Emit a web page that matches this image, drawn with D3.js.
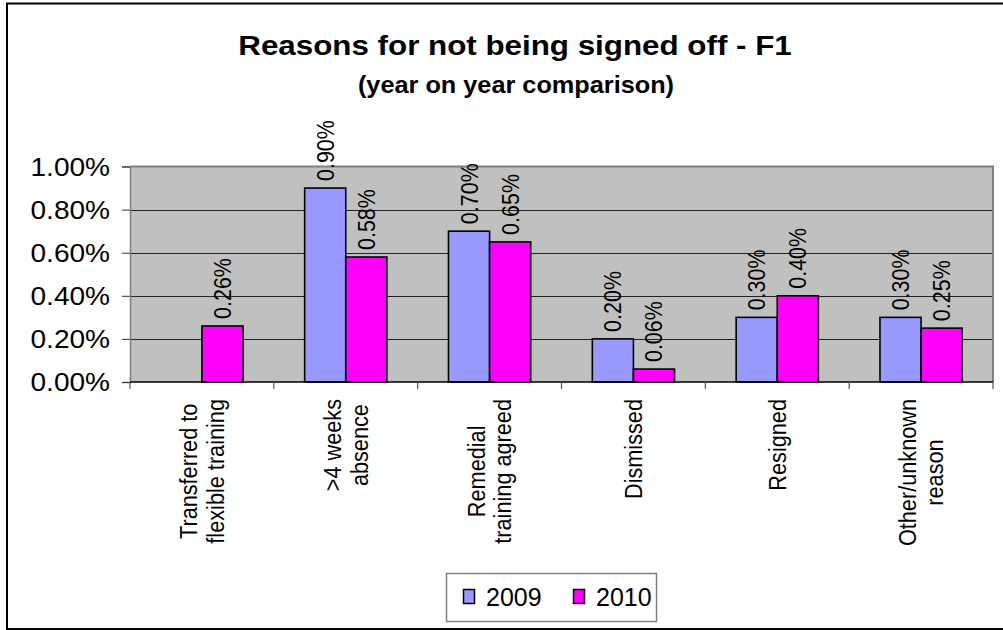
<!DOCTYPE html>
<html>
<head>
<meta charset="utf-8">
<script src="https://cdn.jsdelivr.net/npm/d3@7"></script>
<style>
  body { margin: 0; background: #fff; }
  svg text { font-family: "Liberation Sans", Arial, sans-serif; fill: #000; }
</style>
</head>
<body>
<div id="chart"></div>
<script>
// chart data
var categories = [
    ["Transferred to", "flexible training"],
    [">4 weeks", "absence"],
    ["Remedial", "training agreed"],
    ["Dismissed"],
    ["Resigned"],
    ["Other/unknown", "reason"]
];
var seriesNames = ["2009", "2010"];
var values2009 = [null, 0.90, 0.70, 0.20, 0.30, 0.30];
var values2010 = [0.26, 0.58, 0.65, 0.06, 0.40, 0.25];
var yTicks = [0, 0.2, 0.4, 0.6, 0.8, 1.0];
var colors = ["#9999ff", "#ff00ff"];

function init(){
    var w = 1003;
    var h = 630;
    var sx = 1.1; // text in the picture is a little wider than tall

    var plot = {left: 130, right: 993, top: 166.5, bottom: 382};

    var svg = d3.select('#chart')
                .append('svg')
                .attr('width', w)
                .attr('height', h);

    // outer frame
    svg.append('rect')
        .attr('x', 7).attr('y', 3.5)
        .attr('width', 1010).attr('height', 625.5)
        .attr('fill', '#fff')
        .attr('stroke', '#000')
        .attr('stroke-width', 2);

    // scales
    var xScale = d3.scaleBand()
                    .domain(d3.range(categories.length))
                    .range([plot.left, plot.right])
                    .padding(0);

    // gap width 150% => 0.75 bar on each side
    var xInner = d3.scaleBand()
                    .domain(seriesNames)
                    .range([0, xScale.bandwidth()])
                    .paddingInner(0)
                    .paddingOuter(0.75);

    var yScale = d3.scaleLinear()
                    .domain([0, 1.0])
                    .range([plot.bottom, plot.top]);

    // plot background
    svg.append('rect')
        .attr('x', plot.left).attr('y', plot.top)
        .attr('width', plot.right - plot.left)
        .attr('height', plot.bottom - plot.top)
        .attr('fill', '#c0c0c0');

    // gridlines
    svg.selectAll('line.grid')
        .data(yTicks.filter(function(d){ return d > 0 && d < 1; }))
        .enter()
        .append('line')
        .attr('class', 'grid')
        .attr('x1', plot.left).attr('x2', plot.right)
        .attr('y1', function(d){ return Math.round(yScale(d)) + 0.5; })
        .attr('y2', function(d){ return Math.round(yScale(d)) + 0.5; })
        .attr('stroke', '#222')
        .attr('stroke-width', 1);

    // plot border (top and right)
    svg.append('path')
        .attr('d', 'M' + plot.left + ',' + plot.top + 'H' + plot.right + 'V' + plot.bottom)
        .attr('fill', 'none')
        .attr('stroke', '#808080')
        .attr('stroke-width', 2);

    // bars
    var series = [values2009, values2010];
    var rows = [];
    series.forEach(function(vals, s){
        vals.forEach(function(v, i){
            if (v !== null) rows.push({i: i, s: s, v: v});
        });
    });

    svg.selectAll('rect.bar')
        .data(rows)
        .enter()
        .append('rect')
        .attr('class', 'bar')
        .attr('x', function(d){ return xScale(d.i) + xInner(seriesNames[d.s]); })
        .attr('y', function(d){ return yScale(d.v); })
        .attr('width', xInner.bandwidth())
        .attr('height', function(d){ return yScale(0) - yScale(d.v); })
        .attr('fill', function(d){ return colors[d.s]; })
        .attr('stroke', '#000')
        .attr('stroke-width', 1.6);

    // data labels, rotated
    svg.selectAll('text.val')
        .data(rows)
        .enter()
        .append('text')
        .attr('class', 'val')
        .attr('transform', function(d){
            var cx = xScale(d.i) + xInner(seriesNames[d.s]) + xInner.bandwidth() / 2;
            return 'translate(' + cx + ',' + (yScale(d.v) - 7) + ') scale(' + sx + ',1) rotate(-90)';
        })
        .attr('y', 7.7)
        .attr('font-size', '21.5px')
        .text(function(d){ return d.v.toFixed(2) + '%'; });

    // y axis
    var yAxis = d3.axisLeft(yScale)
                    .tickValues(yTicks)
                    .tickSize(8)
                    .tickFormat(function(d){ return d.toFixed(2) + '%'; });

    var gy = svg.append('g')
        .attr('transform', 'translate(' + plot.left + ',0)')
        .call(yAxis);
    gy.select('.domain').attr('stroke', '#808080').attr('stroke-width', 1.5);
    gy.selectAll('.tick line').attr('stroke', '#333');
    gy.selectAll('.tick text')
        .attr('font-size', '25.5px')
        .attr('font-family', '"Liberation Sans", Arial, sans-serif')
        .attr('x', -20 / sx)
        .attr('dy', '0.35em')
        .attr('transform', 'scale(' + sx + ',1)');

    // x axis line and ticks at category boundaries
    svg.append('line')
        .attr('x1', plot.left).attr('x2', plot.right)
        .attr('y1', plot.bottom).attr('y2', plot.bottom)
        .attr('stroke', '#000')
        .attr('stroke-width', 1.5);

    svg.selectAll('line.xtick')
        .data(d3.range(categories.length + 1))
        .enter()
        .append('line')
        .attr('class', 'xtick')
        .attr('x1', function(d){ return plot.left + d * xScale.step(); })
        .attr('x2', function(d){ return plot.left + d * xScale.step(); })
        .attr('y1', plot.bottom).attr('y2', plot.bottom + 7)
        .attr('stroke', '#555')
        .attr('stroke-width', 1.2);

    // category labels, rotated, lines centred on the longest one
    var lineGap = 24;
    var labelTop = 399;
    categories.forEach(function(lines, i){
        var cx = xScale(i) + xScale.bandwidth() / 2;
        var g = svg.append('g')
            .attr('transform', 'translate(' + cx + ',' + labelTop + ') scale(' + sx + ',1) rotate(-90)');
        var texts = g.selectAll('text')
            .data(lines)
            .enter()
            .append('text')
            .attr('font-size', '21.7px')
            .attr('text-anchor', 'middle')
            .attr('y', function(d, k){ return 7.8 + (k - (lines.length - 1) / 2) * lineGap; })
            .text(function(d){ return d; });
        var maxLen = d3.max(texts.nodes(), function(n){ return n.getComputedTextLength(); });
        texts.attr('x', -maxLen / 2);
    });

    // title
    svg.append('text')
        .attr('transform', 'translate(515,55) scale(' + sx + ',1)')
        .attr('text-anchor', 'middle')
        .attr('font-size', '28.5px')
        .attr('font-weight', 'bold')
        .text('Reasons for not being signed off - F1');

    svg.append('text')
        .attr('transform', 'translate(516,93) scale(' + sx + ',1)')
        .attr('text-anchor', 'middle')
        .attr('font-size', '23px')
        .attr('font-weight', 'bold')
        .text('(year on year comparison)');

    // legend
    var legend = svg.append('g');
    legend.append('rect')
        .attr('x', 446.5).attr('y', 573.5)
        .attr('width', 210).attr('height', 48)
        .attr('fill', '#fff')
        .attr('stroke', '#808080')
        .attr('stroke-width', 1.5);

    var legendX = [463, 573];
    var items = legend.selectAll('g.item')
        .data(seriesNames)
        .enter()
        .append('g')
        .attr('class', 'item')
        .attr('transform', function(d, i){ return 'translate(' + legendX[i] + ',0)'; });

    items.append('rect')
        .attr('x', 0.5).attr('y', 589.5)
        .attr('width', 11).attr('height', 14)
        .attr('fill', function(d, i){ return colors[i]; })
        .attr('stroke', '#000')
        .attr('stroke-width', 1.5);

    items.append('text')
        .attr('x', 23)
        .attr('y', 606)
        .attr('font-size', '25px')
        .text(function(d){ return d; });
}

window.onload = init;
</script>
</body>
</html>
